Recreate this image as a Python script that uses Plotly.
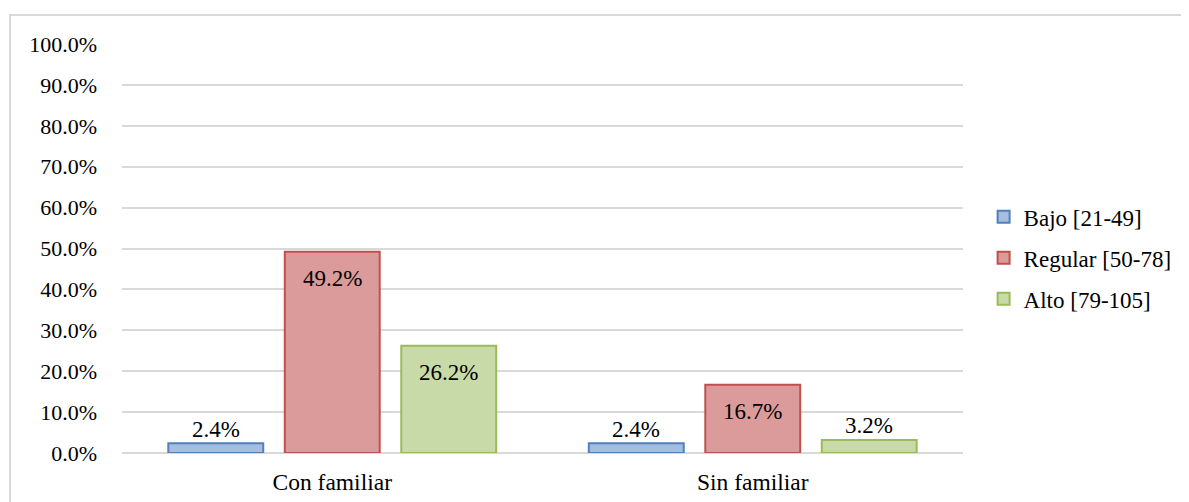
import plotly.graph_objects as go

categories = ["Con familiar", "Sin familiar"]
series_names = ["Bajo [21-49]", "Regular [50-78]", "Alto [79-105]"]
bajo = [0.024, 0.024]
regular = [0.492, 0.167]
alto = [0.262, 0.032]
y_ticks = [0.0, 0.1, 0.2, 0.3, 0.4, 0.5, 0.6, 0.7, 0.8, 0.9, 1.0]

series_values = [bajo, regular, alto]
fills = ["#a7bcdf", "#db9b9b", "#c8daa7"]
lines = ["#4f81bd", "#c0504d", "#9bbb59"]
FONT = "Liberation Serif, Times New Roman, serif"
BARGAP = 0.169
GROUPGAP = 0.185
INSIDE_MIN = 0.10

fig = go.Figure()
for i, (name, vals) in enumerate(zip(series_names, series_values)):
    fig.add_trace(go.Bar(
        x=categories, y=vals, name=name, legendgroup=name,
        marker=dict(color=fills[i], line=dict(color=lines[i], width=2)),
        hoverinfo="skip",
    ))

# data labels
slot = (1 - BARGAP) / len(series_values)
for i, vals in enumerate(series_values):
    off = (i - (len(series_values) - 1) / 2) * slot
    for j, v in enumerate(vals):
        inside = v >= INSIDE_MIN
        fig.add_annotation(
            x=j + off, y=v, xref="x", yref="y",
            text=f"{v*100:.1f}%", showarrow=False,
            yshift=-27 if inside else 14,
            font=dict(family=FONT, size=23, color="black"),
        )

fig.update_layout(
    width=1189, height=502,
    margin=dict(l=114, r=234, t=36, b=57),
    paper_bgcolor="white", plot_bgcolor="white",
    barmode="group", bargap=BARGAP, bargroupgap=GROUPGAP,
    font=dict(family=FONT, size=22, color="black"),
    showlegend=True,
    legend=dict(
        x=1.0245, xanchor="left", y=0.477, yanchor="middle",
        font=dict(family=FONT, size=23, color="black"),
        tracegroupgap=8, bgcolor="rgba(0,0,0,0)",
    ),
    xaxis=dict(
        showgrid=False, showline=False, zeroline=False,
        ticks="", tickfont=dict(family=FONT, size=23.5),
        ticklabelstandoff=12,
    ),
    yaxis=dict(
        range=[0, 1], tickvals=y_ticks, tickformat=".1%",
        showgrid=True, gridcolor="#d9d9d9", gridwidth=1.5,
        zeroline=True, zerolinecolor="#d9d9d9", zerolinewidth=1.5,
        showline=False, ticks="",
        tickfont=dict(family=FONT, size=22),
        ticklabelstandoff=24,
    ),
    shapes=[dict(
        type="rect", xref="paper", yref="paper",
        x0=-0.1332, x1=1.276, y0=-0.139, y1=1.071,
        line=dict(color="#d9d9d9", width=2), fillcolor="rgba(0,0,0,0)",
        layer="below",
    )],
)

fig.write_html("out.html")
